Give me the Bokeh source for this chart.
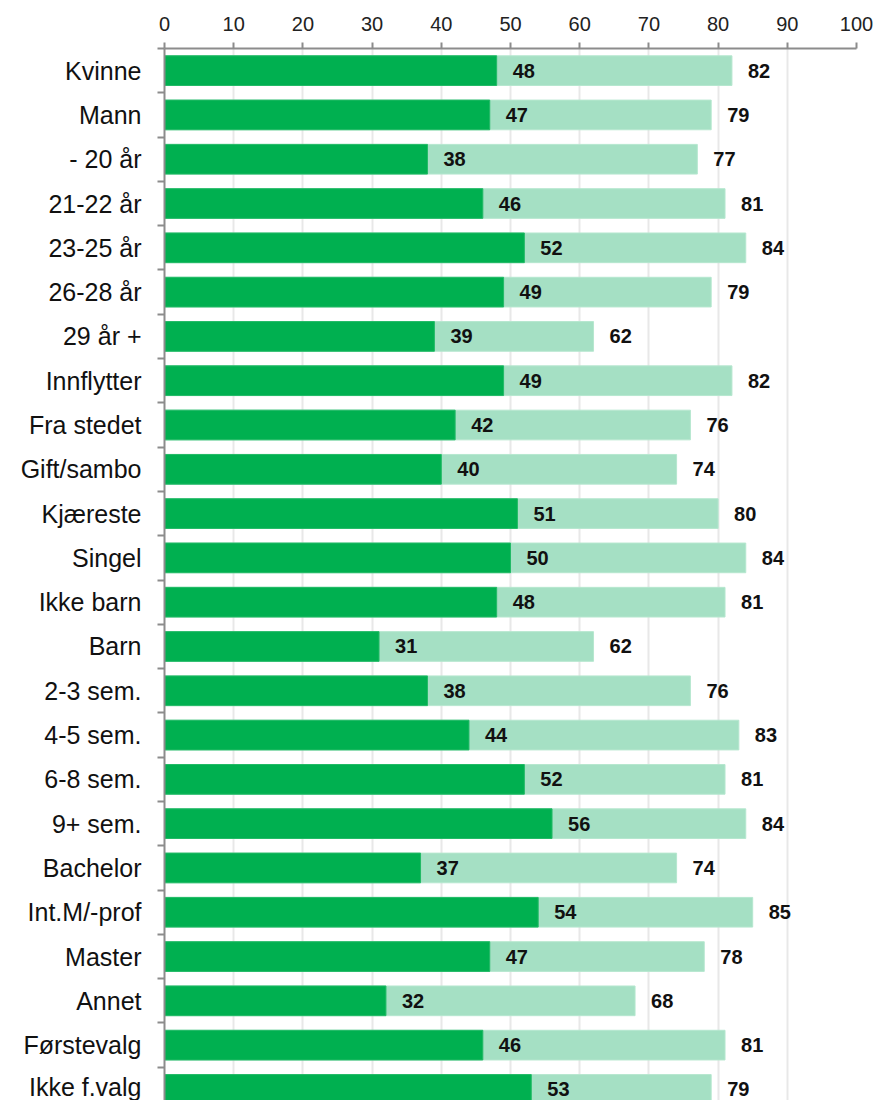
from bokeh.plotting import figure
from bokeh.models import ColumnDataSource, FixedTicker, Range1d
from bokeh.core.properties import value
from bokeh.embed import file_html
from bokeh.resources import INLINE

categories = ["Kvinne", "Mann", "- 20 år", "21-22 år", "23-25 år", "26-28 år", "29 år +",
              "Innflytter", "Fra stedet", "Gift/sambo", "Kjæreste", "Singel", "Ikke barn",
              "Barn", "2-3 sem.", "4-5 sem.", "6-8 sem.", "9+ sem.", "Bachelor",
              "Int.M/-prof", "Master", "Annet", "Førstevalg", "Ikke f.valg"]
dark_values = [48, 47, 38, 46, 52, 49, 39, 49, 42, 40, 51, 50, 48, 31, 38, 44, 52, 56, 37, 54, 47, 32, 46, 53]
light_values = [82, 79, 77, 81, 84, 79, 62, 82, 76, 74, 80, 84, 81, 62, 76, 83, 81, 84, 74, 85, 78, 68, 81, 79]
x_ticks = [0, 10, 20, 30, 40, 50, 60, 70, 80, 90, 100]

pos = list(range(len(categories)))
src = ColumnDataSource(dict(
    y=pos, dark=dark_values, light=light_values,
    dark_lbl=[str(v) for v in dark_values], light_lbl=[str(v) for v in light_values],
))

FONT = "Liberation Sans"
p = figure(width=873, height=1100, output_backend="svg", toolbar_location=None,
           x_range=Range1d(0, 100), y_range=Range1d(23.25, -0.5),
           x_axis_location="above",
           min_border_left=164, min_border_right=17, min_border_top=48, min_border_bottom=0)
p.outline_line_color = None

p.hbar(y="y", left=0, right="light", height=0.67, source=src,
       fill_color="#A5E0C4", line_color="#B6E7CF", line_width=1)
p.hbar(y="y", left=0, right="dark", height=0.67, source=src,
       fill_color="#00B050", line_color="#22BA66", line_width=1)

p.text(x="dark", y="y", text="dark_lbl", source=src, x_offset=16,
       text_align="left", text_baseline="middle", text_font=value(FONT),
       text_font_style="bold", text_font_size="20px", text_color="#111111")
p.text(x="light", y="y", text="light_lbl", source=src, x_offset=16,
       text_align="left", text_baseline="middle", text_font=value(FONT),
       text_font_style="bold", text_font_size="20px", text_color="#111111")

# x axis (top)
xa = p.xaxis[0]
xa.ticker = FixedTicker(ticks=x_ticks)
xa.major_tick_in = 0
xa.major_tick_out = 6
xa.minor_tick_line_color = None
xa.axis_line_color = "#8C8C8C"
xa.axis_line_width = 2
xa.major_tick_line_color = "#8C8C8C"
xa.major_tick_line_width = 2
xa.major_label_text_font = FONT
xa.major_label_text_font_size = "20px"
xa.major_label_text_color = "#222222"
xa.major_label_standoff = 12

# y axis (left)
ya = p.yaxis[0]
ya.ticker = FixedTicker(ticks=pos, minor_ticks=[i - 0.5 for i in range(len(categories) + 1)])
ya.major_label_overrides = {i: c for i, c in enumerate(categories)}
ya.major_tick_line_color = None
ya.major_tick_in = 0
ya.major_tick_out = 7
ya.minor_tick_in = 0
ya.minor_tick_out = 7
ya.minor_tick_line_color = "#8C8C8C"
ya.minor_tick_line_width = 2
ya.axis_line_color = "#8C8C8C"
ya.axis_line_width = 2
ya.major_label_text_font = FONT
ya.major_label_text_font_size = "25px"
ya.major_label_text_color = "#111111"
ya.major_label_standoff = 16

p.xgrid.grid_line_color = "#E8E8E8"
p.xgrid.grid_line_width = 2
p.xgrid.ticker = FixedTicker(ticks=x_ticks)
p.ygrid.grid_line_color = None

open("out.html", "w").write(file_html(p, INLINE))
